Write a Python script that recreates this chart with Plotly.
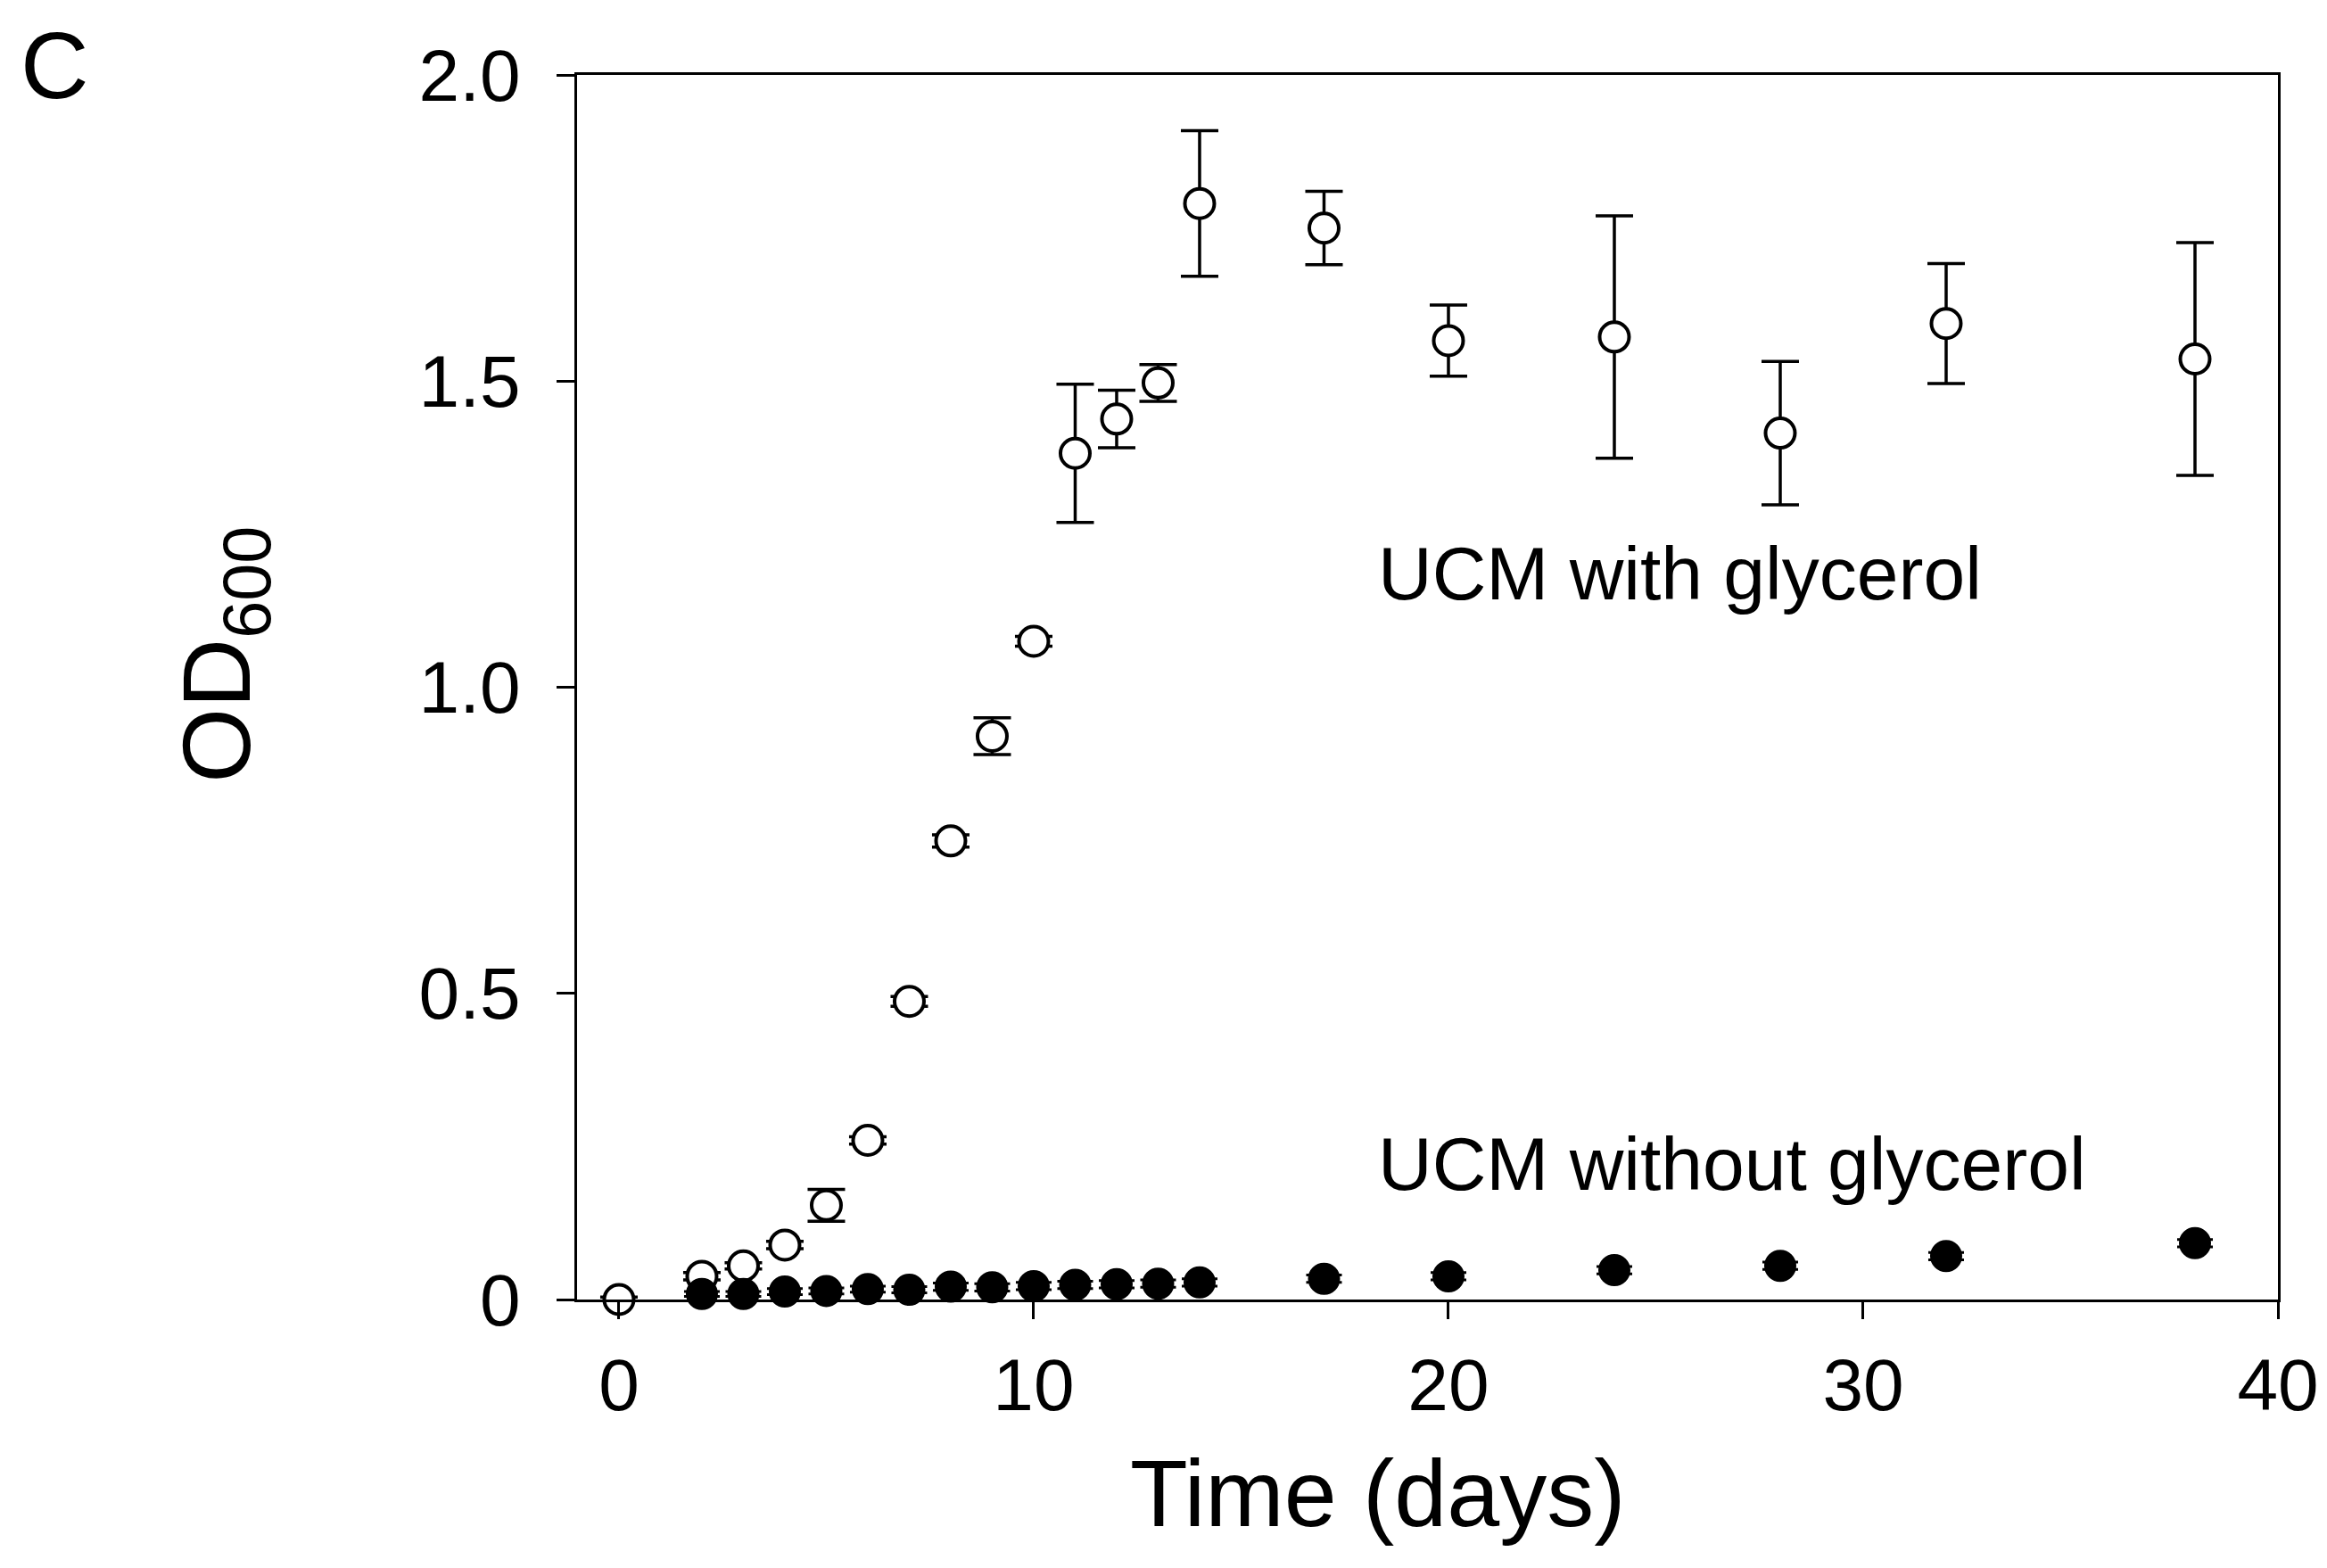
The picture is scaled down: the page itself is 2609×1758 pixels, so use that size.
import plotly.graph_objects as go

# ---- data ----
days_with = [0, 2, 3, 4, 5, 6, 7, 8, 9, 10, 11, 12, 13, 14, 17, 20, 24, 28, 32, 38]
od_with = [0.0, 0.038, 0.055, 0.089, 0.154, 0.260, 0.487, 0.749, 0.920, 1.075,
           1.382, 1.438, 1.497, 1.790, 1.750, 1.566, 1.572, 1.415, 1.594, 1.536]
err_with = [0.004, 0.006, 0.005, 0.006, 0.026, 0.006, 0.008, 0.010, 0.030, 0.008,
            0.113, 0.047, 0.030, 0.119, 0.060, 0.058, 0.198, 0.117, 0.098, 0.190]

days_without = [2, 3, 4, 5, 6, 7, 8, 9, 10, 11, 12, 13, 14, 17, 20, 24, 28, 32, 38]
od_without = [0.009, 0.009, 0.013, 0.014, 0.017, 0.016, 0.021, 0.020, 0.022, 0.024,
              0.025, 0.026, 0.028, 0.034, 0.038, 0.048, 0.055, 0.071, 0.092]
err_without = [0.004, 0.004, 0.005, 0.005, 0.005, 0.005, 0.006, 0.006, 0.006, 0.006,
               0.006, 0.006, 0.006, 0.006, 0.006, 0.006, 0.006, 0.006, 0.006]

x_ticks = [0, 10, 20, 30, 40]
y_ticks = [0, 0.5, 1.0, 1.5, 2.0]
y_tick_labels = ["0", "0.5", "1.0", "1.5", "2.0"]

FONT = "Liberation Sans, Arial, sans-serif"

fig = go.Figure()

fig.add_trace(go.Scatter(
    x=days_with, y=od_with, mode="markers", name="UCM with glycerol",
    marker=dict(symbol="circle", size=33, color="white",
                line=dict(color="black", width=4)),
    error_y=dict(type="data", array=err_with, visible=True,
                 color="black", thickness=3.5, width=21),
    cliponaxis=False, showlegend=False,
))

fig.add_trace(go.Scatter(
    x=days_without, y=od_without, mode="markers", name="UCM without glycerol",
    marker=dict(symbol="circle", size=34, color="black",
                line=dict(color="black", width=2)),
    error_y=dict(type="data", array=err_without, visible=True,
                 color="black", thickness=3, width=20),
    cliponaxis=False, showlegend=False,
))

fig.update_layout(
    width=2609, height=1758,
    margin=dict(l=639, r=63, t=76, b=309),
    paper_bgcolor="white", plot_bgcolor="white",
    font=dict(family=FONT, color="black", size=82),
)

fig.update_xaxes(
    range=[-1.01, 40], tickmode="array", tickvals=x_ticks,
    ticks="outside", ticklen=19, tickwidth=3, tickcolor="black",
    showline=True, linewidth=3, linecolor="black", mirror=True,
    showgrid=False, zeroline=False,
    tickfont=dict(size=82, family=FONT, color="black"),
    ticklabelstandoff=4,
)
fig.update_yaxes(
    range=[0, 2.0], tickmode="array", tickvals=y_ticks, ticktext=y_tick_labels,
    ticks="outside", ticklen=20, tickwidth=3, tickcolor="black",
    showline=True, linewidth=3, linecolor="black", mirror=True,
    showgrid=False, zeroline=False,
    tickfont=dict(size=82, family=FONT, color="black"),
    ticklabelstandoff=24,
)

fig.add_annotation(text="Time (days)", xref="paper", yref="paper",
                   x=0.471, y=-0.158, xanchor="center", yanchor="middle",
                   showarrow=False, font=dict(size=106, family=FONT, color="black"))
fig.add_annotation(text="OD<sub>600</sub>", xref="paper", yref="paper",
                   x=-0.208, y=0.527, xanchor="center", yanchor="middle",
                   textangle=-90, showarrow=False,
                   font=dict(size=108, family=FONT, color="black"))
fig.add_annotation(text="C", xref="paper", yref="paper",
                   x=-0.307, y=1.008, xanchor="center", yanchor="middle",
                   showarrow=False, font=dict(size=106, family=FONT, color="black"))
fig.add_annotation(text="UCM with glycerol", xref="x", yref="y",
                   x=18.25, y=1.186, xanchor="left", yanchor="middle",
                   showarrow=False, font=dict(size=84, family=FONT, color="black"))
fig.add_annotation(text="UCM without glycerol", xref="x", yref="y",
                   x=18.25, y=0.221, xanchor="left", yanchor="middle",
                   showarrow=False, font=dict(size=84, family=FONT, color="black"))

fig.write_html("out.html")
